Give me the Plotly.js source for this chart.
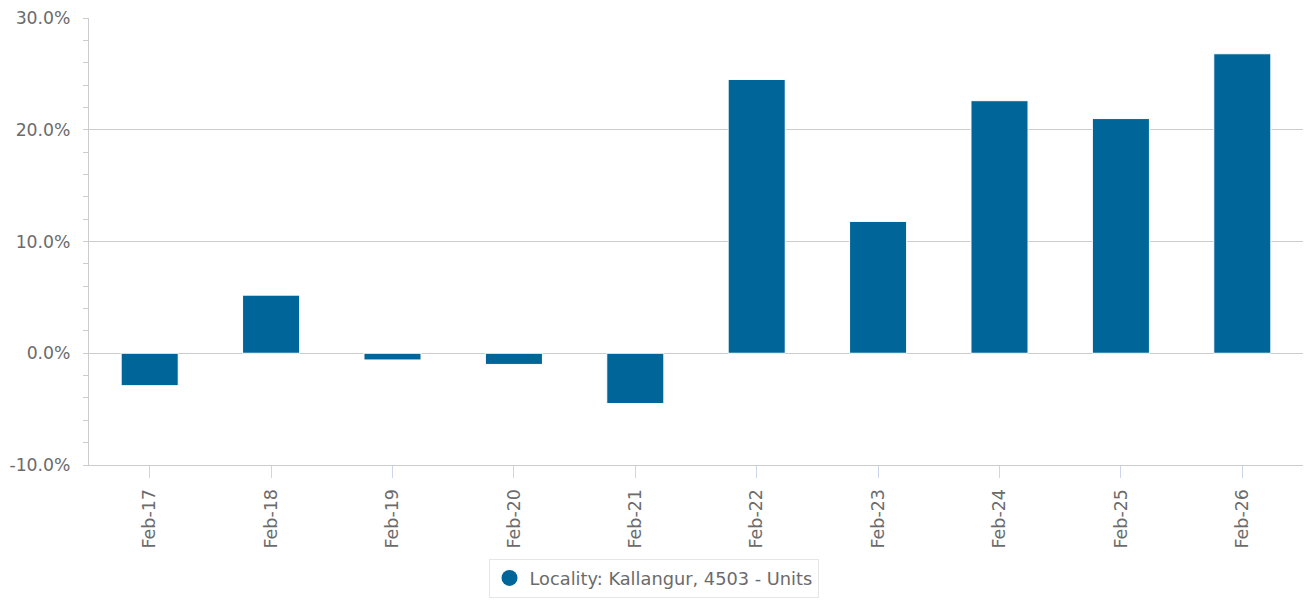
<!DOCTYPE html>
<html>
<head>
<meta charset="utf-8">
<script src="https://cdn.plot.ly/plotly-3.0.1.min.js"></script>
<style>
  html, body { margin: 0; padding: 0; background: #fff; }
  #chart { width: 1306px; height: 607px; }
</style>
</head>
<body>
<div id="chart"></div>
<script>
// annual change by February
const periods = ['Feb-17', 'Feb-18', 'Feb-19', 'Feb-20', 'Feb-21',
                 'Feb-22', 'Feb-23', 'Feb-24', 'Feb-25', 'Feb-26'];
const changePct = [-2.9, 5.2, -0.6, -1.0, -4.5, 24.5, 11.8, 22.6, 21.0, 26.8];
const yTicks = [-10, 0, 10, 20, 30];
const seriesName = 'Locality: Kallangur, 4503 - Units';

const barColor = '#006699';
const textColor = '#6b6b6b';
const fontFamily = '"DejaVu Sans", sans-serif';

// plain hyphen for negatives, like the original
const yTickText = yTicks.map(v => v.toFixed(1) + '%');

const bars = {
  x: periods,
  y: changePct,
  type: 'bar',
  name: seriesName,
  showlegend: false,
  marker: { color: barColor, line: { color: '#ffffff', width: 1 } },
  hoverinfo: 'x+y'
};

// legend entry only (round symbol like the original)
const legendItem = {
  x: [null],
  y: [null],
  type: 'scatter',
  mode: 'markers',
  name: seriesName,
  marker: { color: barColor, size: 18, symbol: 'circle' },
  hoverinfo: 'skip'
};

const layout = {
  width: 1306,
  height: 607,
  margin: { l: 89, r: 3, t: 18, b: 142 },
  paper_bgcolor: '#ffffff',
  plot_bgcolor: '#ffffff',
  font: { family: fontFamily, size: 17, color: textColor },
  bargap: 0.53,
  xaxis: {
    type: 'category',
    tickangle: -90,
    ticks: 'outside',
    ticklen: 12,
    tickcolor: '#ccd6eb',
    ticklabelstandoff: 4,
    showline: true,
    linecolor: '#cccccc',
    linewidth: 1,
    showgrid: false,
    tickfont: { size: 17.5, color: textColor },
    fixedrange: true
  },
  yaxis: {
    range: [-10, 30],
    tickmode: 'array',
    tickvals: yTicks,
    ticktext: yTickText,
    ticks: 'outside',
    ticklen: 5,
    tickcolor: '#cccccc',
    ticklabelstandoff: 9,
    showline: true,
    linecolor: '#cccccc',
    gridcolor: '#cccccc',
    zeroline: true,
    zerolinecolor: '#cccccc',
    zerolinewidth: 1,
    tickfont: { size: 17.3, color: textColor },
    minor: { dtick: 2, ticks: 'outside', ticklen: 5, tickcolor: '#cccccc', showgrid: false },
    fixedrange: true
  },
  showlegend: true,
  legend: {
    orientation: 'h',
    x: 0.465,
    xanchor: 'center',
    y: -0.21,
    yanchor: 'top',
    bordercolor: '#e6e6e6',
    borderwidth: 1,
    bgcolor: '#ffffff',
    font: { size: 17.8, color: textColor }
  },
  hovermode: 'closest'
};

Plotly.newPlot('chart', [bars, legendItem], layout, { displayModeBar: false });
</script>
</body>
</html>
